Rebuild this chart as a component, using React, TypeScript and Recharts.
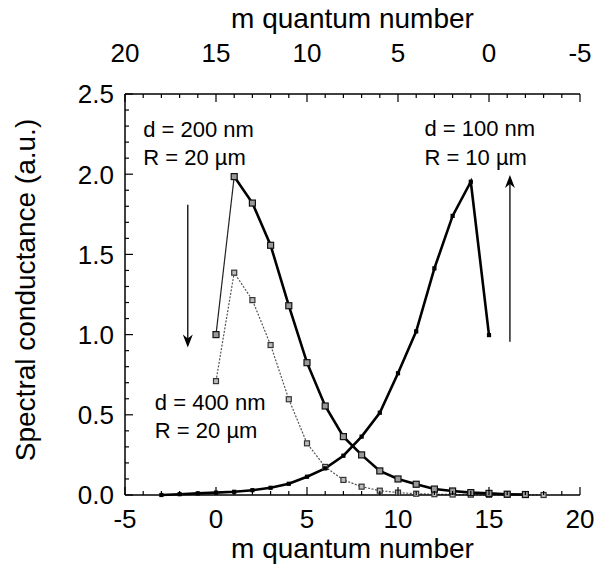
import { LineChart, Line, XAxis, YAxis, ReferenceLine, ReferenceDot, Label } from 'recharts';

const FONT = '"Liberation Sans", Arial, Helvetica, sans-serif';

// m quantum number ticks (bottom axis and reversed top axis)
const mTicks = [-5, -4, -3, -2, -1, 0, 1, 2, 3, 4, 5, 6, 7, 8, 9, 10, 11, 12, 13, 14, 15, 16, 17, 18, 19, 20];
const yTicks = [0, 0.1, 0.2, 0.3, 0.4, 0.5, 0.6, 0.7, 0.8, 0.9, 1.0, 1.1, 1.2, 1.3, 1.4, 1.5, 1.6, 1.7, 1.8, 1.9, 2.0, 2.1, 2.2, 2.3, 2.4, 2.5];

// d = 200 nm, R = 20 um
const m200 = [0, 1, 2, 3, 4, 5, 6, 7, 8, 9, 10, 11, 12, 13, 14, 15, 16, 17];
const g200 = [1.0, 1.985, 1.82, 1.557, 1.18, 0.825, 0.555, 0.364, 0.25, 0.15, 0.1, 0.067, 0.037, 0.025, 0.015, 0.01, 0.005, 0.003];

// d = 400 nm, R = 20 um
const m400 = [0, 1, 2, 3, 4, 5, 6, 7, 8, 9, 10, 11, 12, 13, 14, 15, 16, 17, 18];
const g400 = [0.71, 1.386, 1.215, 0.935, 0.597, 0.322, 0.175, 0.094, 0.052, 0.027, 0.015, 0.008, 0.005, 0.003, 0.002, 0.001, 0.001, 0.0005, 0.0];

// d = 100 nm, R = 10 um
const m100 = [-3, -2, -1, 0, 1, 2, 3, 4, 5, 6, 7, 8, 9, 10, 11, 12, 13, 14, 15];
const g100 = [0.0, 0.005, 0.01, 0.015, 0.02, 0.03, 0.045, 0.07, 0.114, 0.166, 0.245, 0.364, 0.513, 0.759, 1.02, 1.413, 1.74, 1.953, 0.997];

const notes = [
  { m: -4.0, g: 2.232, text: 'd = 200 nm' },
  { m: -4.0, g: 2.057, text: 'R = 20 \u00b5m' },
  { m: 11.45, g: 2.238, text: 'd = 100 nm' },
  { m: 11.45, g: 2.057, text: 'R = 10 \u00b5m' },
  { m: -3.36, g: 0.53, text: 'd = 400 nm' },
  { m: -3.36, g: 0.355, text: 'R = 20 \u00b5m' },
];

const arrows = [
  [{ m: -1.55, g: 1.81 }, { m: -1.55, g: 0.92 }],
  [{ m: 16.15, g: 0.956 }, { m: 16.15, g: 1.995 }],
];

const toRows = (ms: number[], gs: number[]) => ms.map((m, i) => ({ m, g: gs[i] }));
const d200 = toRows(m200, g200);
const d400 = toRows(m400, g400);
const d100 = toRows(m100, g100);

const isMajorY = (v: number) => Math.abs(v * 2 - Math.round(v * 2)) < 1e-6;

function xTick(side: 'top' | 'bottom') {
  return (props: any) => {
    const { x, y, payload } = props;
    const v = payload.value;
    const major = v % 5 === 0;
    const len = major ? 8 : 4;
    const dir = side === 'bottom' ? -1 : 1;
    return (
      <g>
        <line x1={x} y1={y} x2={x} y2={y + dir * len} stroke="#000" strokeWidth={1.2} />
        {major && (
          <text x={x} y={side === 'bottom' ? y + 33 : y - 32} textAnchor="middle" fontSize={26} fontFamily={FONT} fill="#000">
            {v}
          </text>
        )}
      </g>
    );
  };
}

function yTick(side: 'left' | 'right') {
  return (props: any) => {
    const { x, y, payload } = props;
    const v = payload.value;
    const major = isMajorY(v);
    const len = major ? 8 : 4;
    const dir = side === 'left' ? 1 : -1;
    return (
      <g>
        <line x1={x} y1={y} x2={x + dir * len} y2={y} stroke="#000" strokeWidth={1.2} />
        {major && side === 'left' && (
          <text x={x - 11} y={y} dy="0.36em" textAnchor="end" fontSize={26} fontFamily={FONT} fill="#000">
            {v.toFixed(1)}
          </text>
        )}
      </g>
    );
  };
}

const squareDot = (size: number, fill: string, stroke: string) => (props: any) => {
  const { cx, cy, index } = props;
  if (cx == null || cy == null) return <g key={index} />;
  return (
    <rect key={index} x={cx - size / 2} y={cy - size / 2} width={size} height={size} fill={fill} stroke={stroke} strokeWidth={1.2} />
  );
};

const arrowShape = (props: any) => {
  const { x1, y1, x2, y2 } = props;
  const dy = y2 > y1 ? 1 : -1;
  const hl = 13;
  const hw = 5;
  return (
    <g>
      <line x1={x1} y1={y1} x2={x2} y2={y2 - dy * 4} stroke="#000" strokeWidth={1.3} />
      <path
        d={`M${x2},${y2} L${x2 - hw},${y2 - dy * hl} L${x2},${y2 - dy * (hl - 4)} L${x2 + hw},${y2 - dy * hl} Z`}
        fill="#000"
      />
    </g>
  );
};

const axisTitle = (kind: 'top' | 'bottom' | 'left') => (props: any) => {
  const vb = props.viewBox || {};
  if (kind === 'left') {
    return (
      <text
        x={35}
        y={290}
        transform={`rotate(-90, 35, 290)`}
        textAnchor="middle"
        fontSize={28}
        fontFamily={FONT}
        fill="#000"
      >
        Spectral conductance (a.u.)
      </text>
    );
  }
  const cx = vb.x + vb.width / 2;
  const y = kind === 'bottom' ? vb.y + 63 : vb.y + 28;
  return (
    <text x={cx} y={y} textAnchor="middle" fontSize={28} fontFamily={FONT} fill="#000">
      m quantum number
    </text>
  );
};

export default function App() {
  return (
    <div style={{ position: 'absolute', left: 0, top: 0, width: 598, height: 569, background: '#fff' }}>
      <LineChart width={598} height={569} margin={{ top: 0, right: 18, bottom: 0, left: 0 }}>
        <XAxis
          xAxisId="bottom"
          dataKey="m"
          type="number"
          domain={[-5, 20]}
          ticks={mTicks}
          interval={0}
          height={74}
          tickSize={0}
          tickMargin={0}
          tickLine={false}
          tick={xTick('bottom')}
          axisLine={{ stroke: '#000', strokeWidth: 1.5 }}
        >
          <Label content={axisTitle('bottom')} />
        </XAxis>
        <XAxis
          xAxisId="top"
          dataKey="m"
          orientation="top"
          type="number"
          domain={[-5, 20]}
          reversed
          ticks={mTicks}
          interval={0}
          height={94}
          tickSize={0}
          tickMargin={0}
          tickLine={false}
          tick={xTick('top')}
          axisLine={{ stroke: '#000', strokeWidth: 1.5 }}
        >
          <Label content={axisTitle('top')} />
        </XAxis>
        <YAxis
          yAxisId="left"
          type="number"
          domain={[0, 2.5]}
          ticks={yTicks}
          interval={0}
          width={125}
          tickSize={0}
          tickMargin={0}
          tickLine={false}
          tick={yTick('left')}
          axisLine={{ stroke: '#000', strokeWidth: 1.5 }}
        >
          <Label content={axisTitle('left')} />
        </YAxis>
        <YAxis
          yAxisId="right"
          orientation="right"
          type="number"
          domain={[0, 2.5]}
          ticks={yTicks}
          interval={0}
          width={0}
          tickSize={0}
          tickMargin={0}
          tickLine={false}
          tick={yTick('right')}
          axisLine={{ stroke: '#000', strokeWidth: 1.5 }}
        />

        {/* invisible series so the top and right axes are drawn */}
        <Line
          xAxisId="top"
          yAxisId="right"
          data={d200}
          dataKey="g"
          stroke="none"
          dot={false}
          activeDot={false}
          legendType="none"
          isAnimationActive={false}
        />

        <Line
          xAxisId="bottom"
          yAxisId="left"
          data={d400}
          dataKey="g"
          type="linear"
          stroke="#555"
          strokeWidth={1.2}
          strokeDasharray="2 1.5"
          dot={squareDot(5, '#bbb', '#333')}
          isAnimationActive={false}
        />
        <Line
          xAxisId="bottom"
          yAxisId="left"
          data={d200.slice(0, 2)}
          dataKey="g"
          type="linear"
          stroke="#222"
          strokeWidth={1.2}
          dot={false}
          isAnimationActive={false}
        />
        <Line
          xAxisId="bottom"
          yAxisId="left"
          data={d200.slice(1)}
          dataKey="g"
          type="linear"
          stroke="#000"
          strokeWidth={2.6}
          dot={false}
          isAnimationActive={false}
        />
        <Line
          xAxisId="bottom"
          yAxisId="left"
          data={d200}
          dataKey="g"
          type="linear"
          stroke="none"
          dot={squareDot(6, '#999', '#111')}
          isAnimationActive={false}
        />
        <Line
          xAxisId="bottom"
          yAxisId="left"
          data={d100}
          dataKey="g"
          type="linear"
          stroke="#000"
          strokeWidth={2.6}
          dot={squareDot(3, '#000', '#000')}
          isAnimationActive={false}
        />

        {arrows.map((a, i) => (
          <ReferenceLine
            key={`arrow-${i}`}
            xAxisId="bottom"
            yAxisId="left"
            segment={[{ x: a[0].m, y: a[0].g }, { x: a[1].m, y: a[1].g }]}
            shape={arrowShape}
          />
        ))}
        {notes.map((n, i) => (
          <ReferenceDot
            key={`note-${i}`}
            xAxisId="bottom"
            yAxisId="left"
            x={n.m}
            y={n.g}
            r={0}
            shape={(p: any) => (
              <text x={p.cx} y={p.cy} fontSize={22} fontFamily={FONT} fill="#000">
                {n.text}
              </text>
            )}
          />
        ))}
      </LineChart>
    </div>
  );
}
